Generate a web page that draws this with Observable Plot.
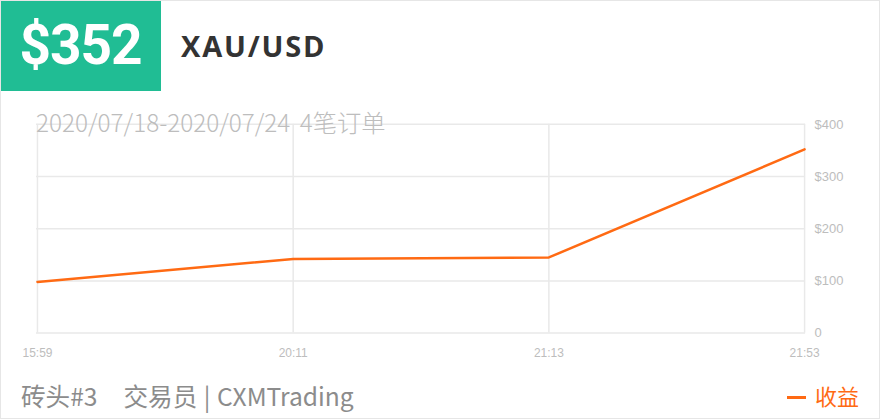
<!DOCTYPE html>
<html><head><meta charset="utf-8">
<script src="https://cdn.jsdelivr.net/npm/d3@7"></script>
<script src="https://cdn.jsdelivr.net/npm/@observablehq/plot@0.6"></script>
<style>
html,body{margin:0;padding:0;background:#fff;}
#card{position:relative;width:878px;height:417px;border:1px solid #e6e6e6;overflow:hidden;font-family:"Noto Sans","Noto Sans CJK SC",sans-serif;}
#badge{position:absolute;left:-1px;top:-1px;width:161px;height:91px;background:#20bd94;color:#fff;font-family:Roboto,sans-serif;font-weight:700;font-size:55px;line-height:91px;text-align:center;letter-spacing:-1px;}
#pair{position:absolute;left:180px;top:25px;font-size:29px;font-weight:700;color:#333;font-family:"Open Sans","Noto Sans",sans-serif;letter-spacing:1.8px;}
#sub{position:absolute;left:35px;top:103px;font-size:24.3px;font-weight:300;color:#bdbdbd;font-family:"Noto Sans CJK SC",sans-serif;line-height:36px;z-index:2;word-spacing:4px;}
#chart{position:absolute;left:-1px;top:-1px;}
#foot{position:absolute;left:20px;top:376px;font-size:24.6px;color:#8c8c8c;font-family:"Noto Sans CJK SC",sans-serif;line-height:36px;white-space:pre;word-spacing:1px;}
#legend{position:absolute;right:20px;top:377px;font-size:22px;color:#ff6a13;font-family:"Noto Sans CJK SC",sans-serif;line-height:34px;}
#legend span{display:inline-block;width:19px;height:3px;background:#ff6a13;vertical-align:middle;margin-right:9px;position:relative;top:-2px;}
</style></head>
<body>
<div id="card">
  <div id="chart"></div>
  <div id="badge"></div>
  <div id="pair"></div>
  <div id="sub"></div>
  <div id="foot"></div>
  <div id="legend"><span></span>收益</div>
</div>
<script>
const amount = "$352";
const pair = "XAU/USD";
const subtitle = "2020/07/18-2020/07/24 4笔订单";
const footer = "砖头#3    交易员 | CXMTrading";
const times = ["15:59", "20:11", "21:13", "21:53"];
const profit = [98, 142, 145, 352];
const yTicks = [0, 100, 200, 300, 400];

document.getElementById("badge").textContent = amount;
document.getElementById("pair").textContent = pair;
document.getElementById("sub").textContent = subtitle;
document.getElementById("foot").textContent = footer;

const data = times.map((t, i) => ({time: t, value: profit[i]}));

const chart = Plot.plot({
  width: 880,
  height: 419,
  marginTop: 124,
  marginBottom: 86,
  marginLeft: 36,
  marginRight: 74,
  style: {background: "transparent", fontFamily: "'Liberation Sans', Arial, sans-serif"},
  x: {type: "point", domain: times, padding: 0},
  y: {domain: [0, 400], ticks: yTicks},
  marks: [
    Plot.gridX(times, {stroke: "#e9e9e9", strokeOpacity: 1, strokeWidth: 1.5}),
    Plot.gridY(yTicks, {stroke: "#e9e9e9", strokeOpacity: 1, strokeWidth: 1.5}),
    Plot.axisY(yTicks, {anchor: "right", tickSize: 0, tickPadding: 9, fontSize: 13, fill: "#bdbdbd", tickFormat: d => d === 0 ? "0" : "$" + d, textAnchor: "start", label: null}),
    Plot.axisX(times, {tickSize: 0, tickPadding: 15, fontSize: 12, fill: "#bdbdbd", label: null}),
    Plot.line(data, {x: "time", y: "value", stroke: "#ff6a13", strokeWidth: 2.5})
  ]
});
document.getElementById("chart").appendChild(chart);
</script>
</body></html>
